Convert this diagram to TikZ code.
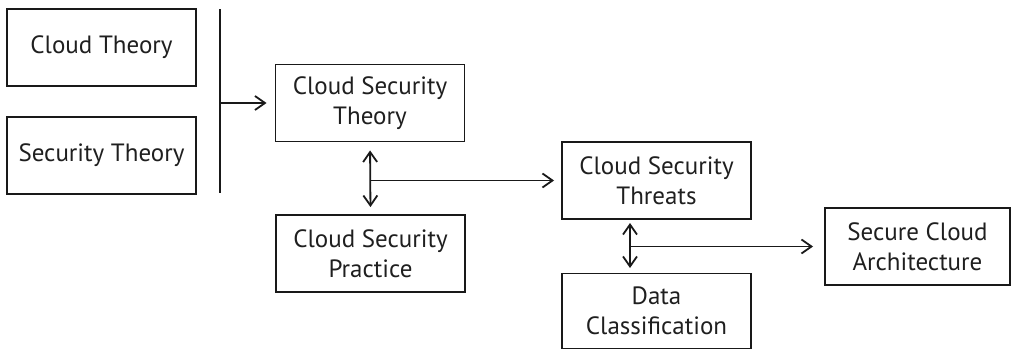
\documentclass[tikz,border=0pt]{standalone}
\usepackage{fontspec}
\setmainfont{PT Sans}
\usetikzlibrary{arrows.meta}
\begin{document}
\begin{tikzpicture}[x=1pt,y=-1pt,
  box/.style={draw=black!90, line width=1.9pt, minimum width=189pt, minimum height=77pt, inner sep=0pt,
    align=center, font=\fontsize{25}{30}\selectfont, text=black!88},
  conn/.style={line width=1.8pt, draw=black!90},
  tip/.style={-{Straight Barb[length=10pt,width=14pt,line width=1.8pt]}},
  dtip/.style={{Straight Barb[length=10pt,width=14pt,line width=1.8pt]}-{Straight Barb[length=10pt,width=14pt,line width=1.8pt]}}]
\useasboundingbox (0,0) rectangle (1012,351);
\node[box] (ct) at (101.5,47.5) {Cloud Theory};
\node[box] (st) at (101.5,155.5) {Security Theory};
\node[box] (cst) at (370,103) {Cloud Security\\Theory};
\node[box] (csp) at (370.5,253.5) {Cloud Security\\Practice};
\node[box] (thr) at (656.5,180.5) {Cloud Security\\Threats};
\node[box, minimum height=75pt] (dc) at (656.5,311) {Data\\Classification};
\node[box, minimum width=185pt] (arch) at (917.5,246.5) {Secure Cloud\\Architecture};
\coordinate (barT) at (220,9);
\coordinate (barB) at (220,193);
\coordinate (barM) at (220,103);
\draw[conn] (barT) -- (barB);
\draw[conn, tip, shorten >=8pt] (barM) -- (cst.west);
\draw[conn, dtip, shorten <=8pt, shorten >=7pt] (cst.south) -- (csp.north);
\coordinate (j1) at (cst.south |- thr.west);
\draw[conn, tip, shorten >=7pt] (j1) -- (thr.west);
\coordinate (t2) at (630,219);
\coordinate (d2) at (630,273);
\draw[conn, dtip, shorten <=4pt, shorten >=5pt] (t2) -- (d2);
\coordinate (j2) at (630,246.5);
\draw[conn, tip, shorten >=11pt] (j2) -- (arch.west);
\end{tikzpicture}
\end{document}
